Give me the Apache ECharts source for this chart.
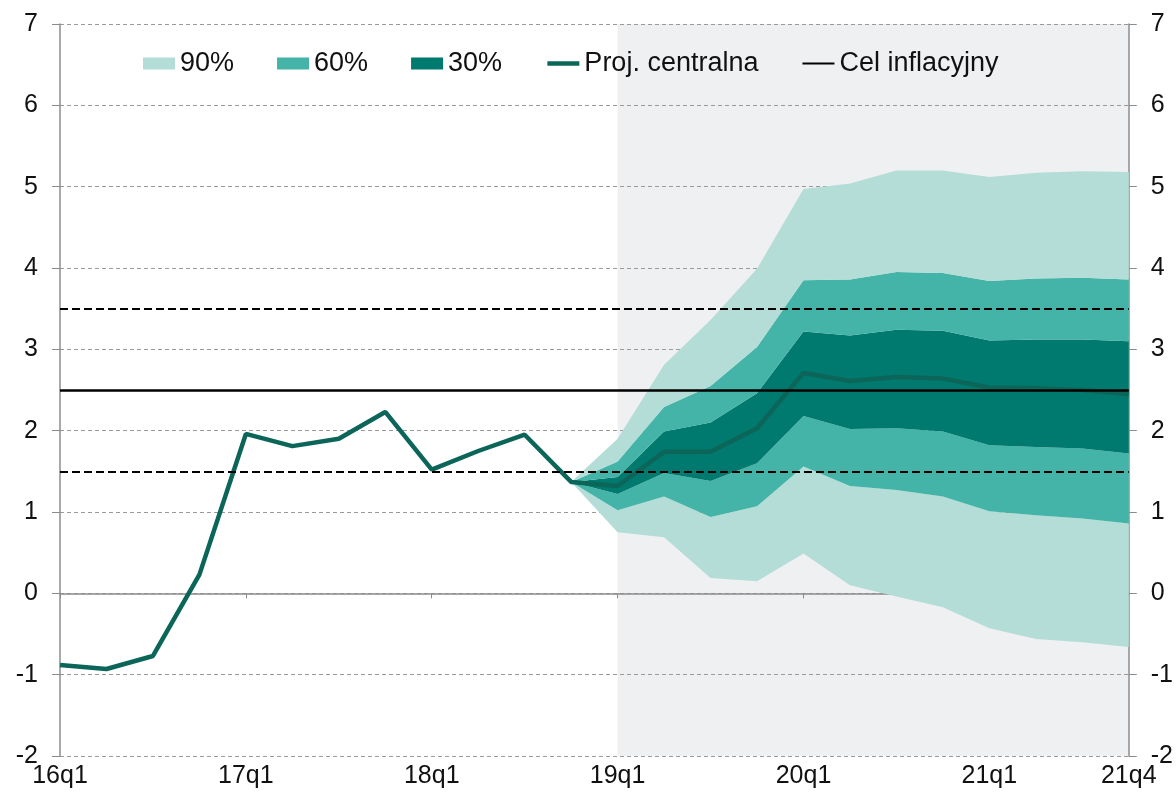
<!DOCTYPE html>
<html>
<head>
<meta charset="utf-8">
<script src="https://cdn.jsdelivr.net/npm/echarts@6/dist/echarts.min.js"></script>
<style>
html, body { margin: 0; padding: 0; background: #fff; }
#main { width: 1176px; height: 796px; }
</style>
</head>
<body>
<div id="main"></div>
<script>
// kwartaly
var categories = ['16q1', '16q2', '16q3', '16q4', '17q1', '17q2', '17q3', '17q4',
    '18q1', '18q2', '18q3', '18q4', '19q1', '19q2', '19q3', '19q4',
    '20q1', '20q2', '20q3', '20q4', '21q1', '21q2', '21q3', '21q4'];

// dane historyczne 16q1-18q4
var histData = [-0.88, -0.93, -0.77, 0.23, 1.96, 1.81, 1.90, 2.23, 1.52, 1.75, 1.95, 1.37];
// projekcja centralna 19q1-21q4
var projection = [1.32, 1.74, 1.74, 2.03, 2.71, 2.61, 2.66, 2.64, 2.53, 2.52, 2.50, 2.45];

// granice przedzialow 18q4-21q4
var lo90 = [1.37, 0.75, 0.69, 0.19, 0.15, 0.49, 0.10, -0.04, -0.17, -0.43, -0.56, -0.60, -0.66];
var lo60 = [1.37, 1.02, 1.19, 0.94, 1.07, 1.56, 1.32, 1.27, 1.19, 1.01, 0.96, 0.92, 0.86];
var lo30 = [1.37, 1.22, 1.48, 1.38, 1.60, 2.18, 2.02, 2.03, 1.99, 1.82, 1.80, 1.78, 1.72];
var hi30 = [1.37, 1.43, 1.99, 2.10, 2.46, 3.22, 3.17, 3.24, 3.23, 3.11, 3.12, 3.12, 3.10];
var hi60 = [1.37, 1.62, 2.29, 2.55, 3.03, 3.85, 3.86, 3.95, 3.94, 3.84, 3.87, 3.88, 3.86];
var hi90 = [1.37, 1.90, 2.81, 3.36, 3.99, 4.97, 5.04, 5.20, 5.20, 5.12, 5.17, 5.19, 5.18];

var target = 2.5;
var targetBand = [1.5, 3.5];

var fanStart = 11; // 18q4

function pad(arr) {
    var out = [];
    for (var i = 0; i < fanStart; i++) out.push(null);
    return out.concat(arr);
}
function diff(a, b) {
    return pad(a.map(function (v, i) { return +(v - b[i]).toFixed(3); }));
}

var central = histData.concat(projection);

var c90 = '#b3ddd6', c60 = '#44b4a8', c30 = '#007a6e', cLine = '#0b6659';
var fontFam = 'Liberation Sans, Arial, sans-serif';

function band(name, data, color) {
    return {
        name: name,
        type: 'line',
        stack: 'fan',
        stackStrategy: 'all',
        data: data,
        symbol: 'none',
        color: color,
        itemStyle: { color: color },
        lineStyle: { width: 0, opacity: 0 },
        areaStyle: { color: color, opacity: 1 },
        z: 2
    };
}

var option = {
    animation: false,
    backgroundColor: '#fff',
    grid: { left: 60, right: 47, top: 24, bottom: 40, containLabel: false },
    legend: {
        left: 138,
        top: 45,
        itemWidth: 32,
        itemHeight: 12,
        itemGap: 43,
        textStyle: { fontSize: 27, color: '#111', fontFamily: fontFam },
        data: [
            { name: '90%', icon: 'rect' },
            { name: '60%', icon: 'rect' },
            { name: '30%', icon: 'rect' },
            { name: 'Proj. centralna', itemStyle: { opacity: 0 }, lineStyle: { width: 4.5 } },
            { name: 'Cel inflacyjny', itemStyle: { opacity: 0 }, lineStyle: { width: 2 } }
        ]
    },
    xAxis: {
        type: 'category',
        data: categories,
        boundaryGap: false,
        axisLine: { lineStyle: { color: '#8c8c8c', width: 1.5 } },
        axisTick: {
            show: true,
            length: 5,
            interval: function (i) { return i % 4 === 0; },
            lineStyle: { color: '#8c8c8c' }
        },
        axisLabel: {
            interval: function (i) { return i % 4 === 0 || i === categories.length - 1; },
            fontSize: 25,
            color: '#111',
            fontFamily: fontFam,
            margin: 8
        },
        splitLine: { show: false }
    },
    yAxis: [{
        type: 'value',
        position: 'left',
        min: -2,
        max: 7,
        interval: 1,
        axisLine: { show: true, lineStyle: { color: '#8c8c8c', width: 1.5 } },
        axisTick: { show: true, length: 8, lineStyle: { color: '#8c8c8c' } },
        axisLabel: { fontSize: 25, color: '#111', fontFamily: fontFam, margin: 22 },
        splitLine: { show: true, lineStyle: { color: '#9a9a9a', width: 1, type: [4, 3] } }
    }, {
        type: 'value',
        position: 'right',
        min: -2,
        max: 7,
        interval: 1,
        axisLine: { show: true, lineStyle: { color: '#8c8c8c', width: 1.5 } },
        axisTick: { show: true, length: 8, lineStyle: { color: '#8c8c8c' } },
        axisLabel: { fontSize: 25, color: '#111', fontFamily: fontFam, margin: 22 },
        splitLine: { show: false }
    }],
    series: [
        {
            name: 'base',
            type: 'line',
            stack: 'fan',
            stackStrategy: 'all',
            data: pad(lo90),
            symbol: 'none',
            lineStyle: { width: 0, opacity: 0 },
            z: 2,
            markArea: {
                silent: true,
                z: -1,
                itemStyle: { color: '#eff0f2' },
                data: [[{ xAxis: '19q1' }, { xAxis: '21q4' }]]
            }
        },
        band('90%', diff(lo60, lo90), c90),
        band('60%', diff(lo30, lo60), c60),
        band('30%', diff(hi30, lo30), c30),
        band('60%', diff(hi60, hi30), c60),
        band('90%', diff(hi90, hi60), c90),
        {
            name: 'Proj. centralna',
            type: 'line',
            data: central,
            symbol: 'none',
            color: cLine,
            lineStyle: { color: cLine, width: 4.5 },
            z: 3
        },
        {
            name: 'Cel inflacyjny',
            type: 'line',
            data: [],
            symbol: 'none',
            color: '#000',
            lineStyle: { color: '#000', width: 2 },
            markLine: {
                silent: true,
                symbol: 'none',
                label: { show: false },
                data: [
                    { yAxis: target, lineStyle: { color: '#000', width: 2.5, type: 'solid' } },
                    { yAxis: targetBand[0], lineStyle: { color: '#000', width: 2.2, type: [8, 4] } },
                    { yAxis: targetBand[1], lineStyle: { color: '#000', width: 2.2, type: [8, 4] } }
                ]
            }
        }
    ]
};

var chart = echarts.init(document.getElementById('main'));
chart.setOption(option);
</script>
</body>
</html>
